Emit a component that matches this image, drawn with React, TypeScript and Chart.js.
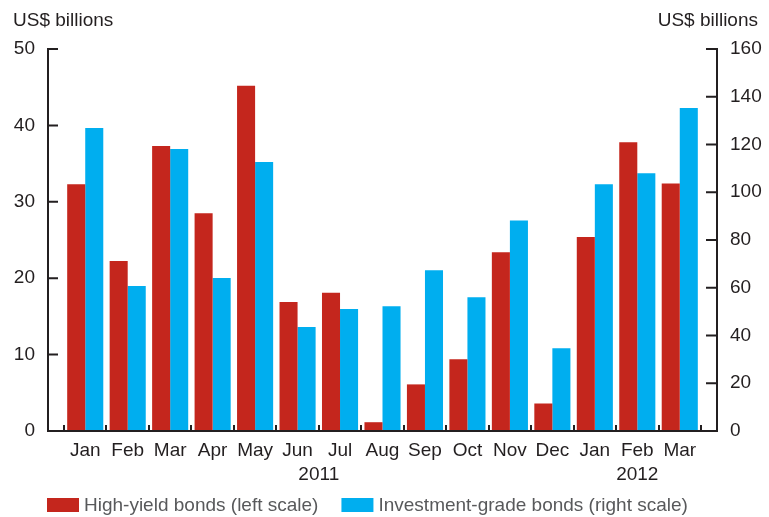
import { useEffect, useRef } from "react";
import { Chart, registerables } from "chart.js";

Chart.register(...registerables);

const months = ["Jan", "Feb", "Mar", "Apr", "May", "Jun", "Jul", "Aug", "Sep", "Oct", "Nov", "Dec", "Jan", "Feb", "Mar"];
const yearLabels = ["2011", "2012"];
const yearStart = [0, 12];
const yearEnd = [11, 14];
const highYield = [32.3, 22.25, 37.3, 28.5, 45.2, 16.9, 18.1, 1.15, 6.1, 9.4, 23.4, 3.6, 25.4, 37.8, 32.4];
const investmentGrade = [126.9, 60.7, 118.1, 64.1, 112.7, 43.6, 51.1, 52.3, 67.3, 56.0, 88.2, 34.7, 103.4, 108.0, 135.3];
const seriesNames = ["High-yield bonds (left scale)", "Investment-grade bonds (right scale)"];
const axisTitle = "US$ billions";
const leftMax = 50;
const leftStep = 10;
const rightMax = 160;
const rightStep = 20;

const RED = "#C4261D";
const BLUE = "#00AEEF";
const DARK = "#231F20";
const GREY = "#58595B";
const FONT = "'Liberation Sans', Arial, Helvetica, sans-serif";

const decorPlugin = {
  id: "decor",
  afterDraw(chart: any) {
    const { ctx, chartArea } = chart;
    const xs = chart.scales.x;
    const yl = chart.scales.y;
    const yr = chart.scales.y1;
    const gap = 16;
    const leftX = chartArea.left - gap;
    const rightX = chartArea.right + gap;
    const bottom = chartArea.bottom;
    const n = months.length;
    const step = (chartArea.right - chartArea.left) / n;

    ctx.save();
    ctx.strokeStyle = DARK;
    ctx.lineWidth = 2;
    ctx.lineCap = "butt";
    ctx.beginPath();
    ctx.moveTo(leftX, yl.getPixelForValue(leftMax) - 1);
    ctx.lineTo(leftX, bottom);
    ctx.moveTo(rightX, yr.getPixelForValue(rightMax) - 1);
    ctx.lineTo(rightX, bottom);
    ctx.moveTo(leftX - 1, bottom);
    ctx.lineTo(rightX + 1, bottom);
    ctx.stroke();
    ctx.beginPath();
    yl.ticks.forEach((t: any) => {
      const y = yl.getPixelForValue(t.value);
      ctx.moveTo(leftX, y);
      ctx.lineTo(leftX + 10, y);
    });
    yr.ticks.forEach((t: any) => {
      const y = yr.getPixelForValue(t.value);
      ctx.moveTo(rightX, y);
      ctx.lineTo(rightX - 11, y);
    });
    for (let i = 0; i <= n; i++) {
      const x = Math.round(chartArea.left + i * step);
      ctx.moveTo(x, bottom);
      ctx.lineTo(x, bottom - 6);
    }
    ctx.stroke();

    ctx.font = `19px ${FONT}`;
    ctx.fillStyle = DARK;
    ctx.textBaseline = "alphabetic";
    ctx.textAlign = "left";
    ctx.fillText(axisTitle, leftX - 35, chartArea.top - 23);
    ctx.textAlign = "right";
    ctx.fillText(axisTitle, rightX + 41, chartArea.top - 23);

    ctx.textAlign = "center";
    yearLabels.forEach((lab, i) => {
      const x0 = xs.getPixelForValue(yearStart[i]) - step / 2;
      const x1 = xs.getPixelForValue(yearEnd[i]) + step / 2;
      ctx.fillText(lab, (x0 + x1) / 2, bottom + 49);
    });

    ctx.textAlign = "left";
    let lx = leftX - 1;
    const boxTop = bottom + 67;
    chart.data.datasets.forEach((ds: any) => {
      ctx.fillStyle = ds.backgroundColor;
      ctx.fillRect(lx, boxTop, 32, 14);
      ctx.fillStyle = GREY;
      ctx.fillText(ds.label, lx + 37, boxTop + 13);
      lx += 37 + ctx.measureText(ds.label).width + 23;
    });
    ctx.restore();
  },
};

export default function App() {
  const ref = useRef<HTMLCanvasElement | null>(null);
  useEffect(() => {
    if (!ref.current) return;
    const chart = new Chart(ref.current, {
      type: "bar",
      data: {
        labels: months,
        datasets: [
          {
            label: seriesNames[0],
            data: highYield,
            backgroundColor: RED,
            yAxisID: "y",
            categoryPercentage: 0.85,
            barPercentage: 1.0,
          },
          {
            label: seriesNames[1],
            data: investmentGrade,
            backgroundColor: BLUE,
            yAxisID: "y1",
            categoryPercentage: 0.85,
            barPercentage: 1.0,
          },
        ],
      },
      plugins: [decorPlugin],
      options: {
        animation: false,
        responsive: false,
        devicePixelRatio: 1,
        layout: { padding: { top: 49, left: 0, right: 0, bottom: 0 } },
        plugins: {
          legend: { display: false },
          tooltip: { enabled: false },
        },
        scales: {
          x: {
            type: "category",
            offset: true,
            grid: { display: false, drawTicks: false, offset: true },
            border: { display: false },
            ticks: {
              color: DARK,
              font: { family: FONT, size: 19 },
              padding: 8,
              maxRotation: 0,
              autoSkip: false,
            },
            afterFit: (s: any) => {
              s.height = 86;
            },
          },
          y: {
            position: "left",
            min: 0,
            max: leftMax,
            grid: { display: false, drawTicks: false },
            border: { display: false },
            ticks: {
              stepSize: leftStep,
              color: DARK,
              font: { family: FONT, size: 19 },
              padding: 29,
            },
            afterFit: (s: any) => {
              s.width = 64;
            },
          },
          y1: {
            position: "right",
            min: 0,
            max: rightMax,
            grid: { display: false, drawTicks: false },
            border: { display: false },
            ticks: {
              stepSize: rightStep,
              color: DARK,
              font: { family: FONT, size: 19 },
              padding: 29,
            },
            afterFit: (s: any) => {
              s.width = 68;
            },
          },
        },
      },
    });
    return () => chart.destroy();
  }, []);
  return (
    <div style={{ position: "absolute", left: 0, top: 0, width: 769, height: 517, background: "#fff" }}>
      <canvas ref={ref} width={769} height={517} style={{ display: "block" }} />
    </div>
  );
}
